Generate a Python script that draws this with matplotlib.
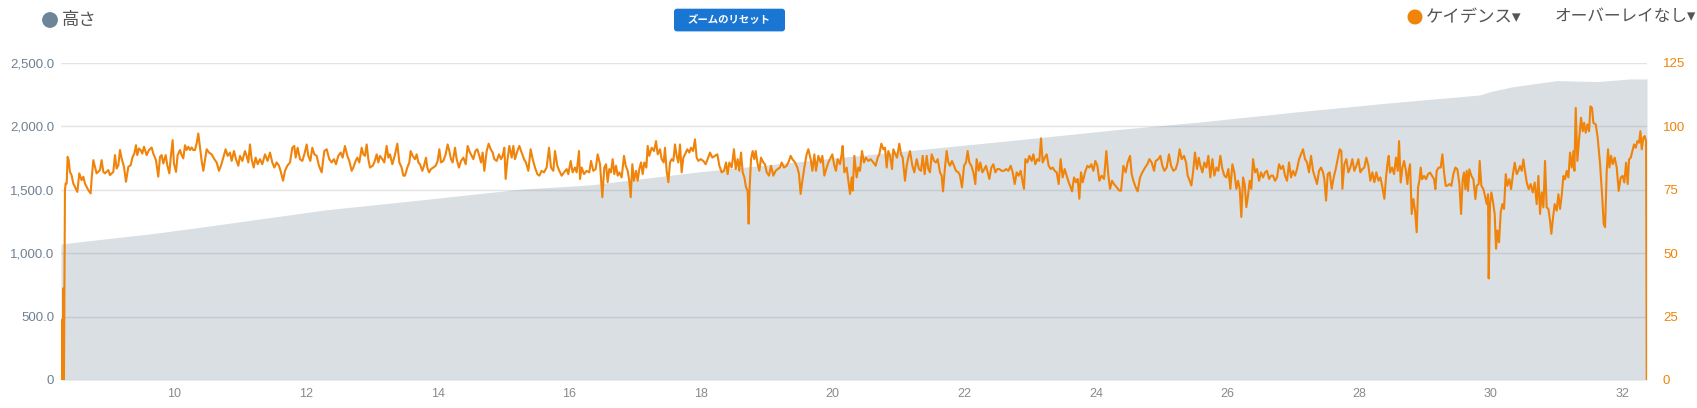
import matplotlib
matplotlib.use("Agg")
import matplotlib.pyplot as plt
from matplotlib.patches import FancyBboxPatch, Circle
from matplotlib.ticker import FuncFormatter

plt.rcParams['font.family'] = ['Liberation Sans', 'Noto Sans CJK JP', 'DejaVu Sans']

# elevation (m) against distance (km)
elev_km = [8.276, 9.704, 10.387, 12.287, 13.730, 15.249, 16.313, 17.984, 20.339, 22.542,
           24.365, 25.580, 27.100, 28.391, 29.834, 29.986, 30.336, 31.004, 31.612, 32.113,
           32.371]
elev_m = [1072, 1156, 1203, 1340, 1418, 1503, 1537, 1641, 1765, 1878,
          1975, 2033, 2115, 2180, 2246, 2272, 2311, 2359, 2351, 2372,
          2372]

km_a = [8.276, 8.281, 8.296, 8.301, 8.311, 8.321, 8.336, 8.346, 8.362, 8.377,
        8.392, 8.412, 8.437, 8.463, 8.488, 8.524, 8.554, 8.589, 8.615, 8.640,
        8.666, 8.691, 8.726, 8.742, 8.767, 8.792, 8.817, 8.868, 8.893, 8.919,
        8.944, 8.995, 9.020, 9.071, 9.096, 9.121, 9.147, 9.172, 9.197, 9.233,
        9.263, 9.299, 9.334, 9.364, 9.390, 9.415, 9.435, 9.461, 9.486, 9.511,
        9.537, 9.577, 9.613, 9.653, 9.678, 9.719, 9.754, 9.780, 9.805, 9.830,
        9.866, 9.891, 9.922, 9.942, 9.972, 9.992, 10.023, 10.048, 10.084, 10.109,
        10.134, 10.160, 10.185, 10.210, 10.236, 10.261, 10.286, 10.311, 10.337, 10.362]
spm_a = [0, 23.6, 23.6, 0, 36.1, 0, 74.8, 77.4, 77.4, 87.9,
         86.6, 82.0, 80.7, 77.4, 76.1, 74.1, 81.4, 78.7, 80.1, 77.4,
         76.1, 74.8, 73.5, 79.4, 86.6, 84.0, 81.4, 82.7, 86.6, 82.0,
         81.4, 82.7, 80.7, 82.0, 88.6, 83.3, 84.6, 90.6, 87.3, 84.0,
         78.1, 84.0, 84.6, 87.9, 89.2, 92.5, 88.6, 91.2, 90.6, 89.2,
         91.9, 88.6, 90.6, 91.6, 89.2, 86.6, 80.1, 87.9, 88.6, 85.3,
         88.6, 84.6, 81.4, 87.3, 94.5, 85.3, 82.0, 88.6, 90.6, 88.6,
         87.3, 92.5, 90.6, 91.9, 90.6, 91.6, 90.6, 90.6, 93.2, 97.1]

km_b = [10.413, 10.438, 10.489, 10.524, 10.565, 10.605, 10.641, 10.676, 10.706, 10.742,
        10.777, 10.808, 10.843, 10.869, 10.904, 10.934, 10.970, 10.995, 11.031, 11.071,
        11.096, 11.122, 11.147, 11.172, 11.203, 11.233, 11.264, 11.299, 11.334, 11.375,
        11.415, 11.451, 11.486, 11.517, 11.552, 11.588, 11.618, 11.649, 11.679, 11.714,
        11.755, 11.790, 11.820, 11.841, 11.871, 11.907, 11.942, 11.973, 12.008, 12.033,
        12.064, 12.094, 12.125, 12.160, 12.195, 12.236, 12.276]
spm_b = [86.3, 82.4, 90.9, 89.6, 88.9, 87.0, 85.7, 82.4, 84.4, 87.6,
         90.9, 88.3, 89.6, 86.3, 90.2, 87.0, 84.4, 88.3, 86.3, 90.2,
         88.3, 85.7, 92.8, 87.0, 83.7, 87.6, 85.0, 87.0, 85.0, 88.9,
         86.3, 89.6, 85.7, 83.7, 85.7, 84.4, 81.8, 78.5, 82.4, 84.4,
         85.7, 91.5, 92.2, 87.6, 91.5, 87.0, 86.3, 88.9, 92.8, 88.3,
         86.3, 91.5, 88.9, 88.3, 84.4, 81.8, 90.2]

km_c = [12.312, 12.352, 12.388, 12.423, 12.454, 12.489, 12.525, 12.555, 12.590, 12.626,
        12.656, 12.692, 12.717, 12.752, 12.778, 12.808, 12.844, 12.869, 12.894, 12.920,
        12.945, 12.970, 13.011, 13.036, 13.072, 13.097, 13.122, 13.158, 13.188, 13.223,
        13.249, 13.274, 13.310, 13.345, 13.386, 13.416, 13.451, 13.477, 13.502, 13.537,
        13.568, 13.588, 13.618, 13.654, 13.679, 13.705, 13.730, 13.765, 13.791, 13.821,
        13.841, 13.867, 13.897, 13.932, 13.968, 13.998, 14.024, 14.049, 14.084, 14.120,
        14.150, 14.176, 14.201, 14.226, 14.262, 14.287, 14.322, 14.353, 14.388, 14.424,
        14.454, 14.479, 14.515, 14.540, 14.571, 14.601, 14.631, 14.657, 14.682, 14.707,
        14.743, 14.773, 14.804, 14.834, 14.859, 14.895, 14.930, 14.961, 14.986, 15.011,
        15.031, 15.057, 15.087, 15.123, 15.148, 15.173, 15.209, 15.239, 15.274, 15.310,
        15.340, 15.376, 15.411, 15.442, 15.477, 15.513, 15.543, 15.578, 15.614, 15.654,
        15.690, 15.720, 15.756, 15.781, 15.816, 15.847, 15.882, 15.918, 15.958, 15.983,
        16.019, 16.049, 16.085, 16.110, 16.146, 16.161, 16.186, 16.222, 16.262, 16.302]
spm_c = [90.9, 87.0, 85.7, 87.0, 85.0, 88.3, 89.6, 87.6, 92.2, 88.3,
         86.3, 82.4, 83.7, 86.3, 87.6, 85.7, 91.5, 88.9, 88.3, 92.8,
         87.0, 83.7, 84.4, 85.7, 88.9, 85.7, 88.3, 87.0, 85.7, 92.2,
         87.6, 88.9, 85.0, 88.3, 93.1, 85.7, 83.7, 80.5, 80.5, 83.7,
         85.7, 90.2, 88.3, 87.0, 88.9, 85.7, 85.0, 82.4, 84.4, 87.6,
         83.7, 81.8, 83.1, 83.7, 84.4, 86.3, 90.9, 85.7, 86.3, 88.9,
         92.8, 90.2, 87.0, 85.7, 91.5, 87.0, 83.7, 86.3, 87.6, 85.0,
         92.2, 90.2, 88.3, 87.0, 90.2, 90.9, 88.3, 85.7, 89.6, 82.4,
         90.2, 93.1, 90.9, 89.6, 87.0, 86.3, 88.9, 87.0, 88.3, 91.5,
         79.2, 86.3, 92.2, 87.6, 92.2, 87.0, 90.2, 92.2, 89.6, 87.0,
         85.7, 82.4, 90.9, 87.0, 83.7, 81.1, 80.5, 82.4, 81.8, 83.7,
         91.5, 83.7, 82.4, 90.2, 84.4, 82.4, 80.5, 81.8, 83.1, 81.1,
         86.3, 81.8, 83.7, 81.8, 90.2, 79.2, 83.7, 81.1, 82.4, 81.8]

km_d = [16.328, 16.363, 16.399, 16.429, 16.465, 16.500, 16.530, 16.556, 16.581, 16.606,
        16.632, 16.657, 16.682, 16.708, 16.733, 16.758, 16.794, 16.829, 16.855, 16.885,
        16.910, 16.931, 16.956, 16.981, 17.012, 17.037, 17.062, 17.088, 17.113, 17.138,
        17.169, 17.189, 17.214, 17.250, 17.285, 17.316, 17.341, 17.376, 17.401, 17.432,
        17.452, 17.477, 17.503, 17.528, 17.553, 17.579, 17.604, 17.629, 17.655, 17.680,
        17.705, 17.731, 17.756, 17.791, 17.822, 17.847, 17.878, 17.908, 17.933, 17.959,
        17.994, 18.035, 18.070, 18.100, 18.136, 18.171, 18.212, 18.247, 18.278, 18.313,
        18.349, 18.379, 18.404, 18.430, 18.465, 18.500, 18.526, 18.556, 18.581, 18.607,
        18.632, 18.658, 18.683, 18.708, 18.723, 18.738, 18.759, 18.784, 18.809, 18.830,
        18.860, 18.885, 18.911, 18.946, 18.971, 18.997, 19.032, 19.063, 19.098, 19.133,
        19.164, 19.199, 19.225, 19.260, 19.301, 19.336, 19.361, 19.387, 19.427, 19.463,
        19.488, 19.513, 19.539, 19.569, 19.604, 19.630, 19.665, 19.691, 19.721, 19.746,
        19.782, 19.817, 19.843, 19.873, 19.908, 19.934, 19.969, 19.994, 20.025, 20.050,
        20.075, 20.111, 20.136, 20.151, 20.177, 20.212, 20.237, 20.263, 20.288, 20.303,
        20.329]
spm_d = [86.3, 82.4, 83.1, 88.9, 85.0, 72.0, 83.7, 85.0, 77.9, 83.1,
         81.8, 87.0, 81.1, 84.4, 80.5, 81.8, 79.8, 88.3, 84.4, 82.4,
         78.5, 72.0, 85.0, 78.5, 82.4, 78.5, 83.1, 85.7, 81.1, 85.7,
         83.7, 92.2, 88.3, 91.5, 90.2, 94.1, 88.9, 90.9, 87.0, 85.7,
         91.5, 82.4, 77.9, 85.7, 87.0, 86.3, 92.8, 88.3, 85.7, 92.8,
         81.8, 87.6, 88.9, 90.9, 89.6, 91.5, 90.2, 94.8, 87.6, 86.3,
         87.0, 86.3, 85.0, 87.0, 89.6, 87.6, 88.3, 88.9, 84.4, 81.8,
         82.4, 85.7, 81.1, 85.7, 83.7, 90.9, 83.1, 87.0, 82.4, 89.6,
         81.8, 79.8, 75.9, 74.6, 61.6, 75.9, 87.0, 90.2, 87.0, 90.2,
         85.0, 82.4, 87.6, 85.7, 85.0, 81.8, 80.5, 84.4, 80.5, 82.4,
         83.1, 83.7, 85.7, 83.7, 84.4, 86.3, 88.3, 87.0, 85.7, 83.7,
         81.1, 73.3, 78.5, 83.7, 88.9, 90.9, 87.0, 82.4, 88.9, 82.4,
         88.3, 85.7, 88.3, 80.5, 83.7, 85.7, 87.6, 88.9, 84.4, 82.4,
         87.0, 85.0, 88.9, 92.2, 81.8, 83.7, 78.5, 73.3, 79.8, 74.6,
         88.3]

km_e = [20.364, 20.389, 20.415, 20.445, 20.475, 20.506, 20.541, 20.577, 20.617, 20.653,
        20.683, 20.708, 20.739, 20.769, 20.795, 20.820, 20.845, 20.871, 20.901, 20.921,
        20.952, 20.977, 21.012, 21.038, 21.063, 21.098, 21.124, 21.149, 21.174, 21.210,
        21.240, 21.276, 21.311, 21.342, 21.367, 21.397, 21.428, 21.453, 21.478, 21.504,
        21.539, 21.569, 21.595, 21.630, 21.655, 21.676, 21.701, 21.731, 21.757, 21.782,
        21.812, 21.843, 21.873, 21.909, 21.934, 21.964, 21.995, 22.025, 22.050, 22.076,
        22.106, 22.137, 22.167, 22.187, 22.218, 22.243, 22.273, 22.304, 22.329, 22.354,
        22.380, 22.410, 22.440, 22.471, 22.501, 22.532, 22.567, 22.602, 22.633, 22.668,
        22.704, 22.734, 22.765, 22.795, 22.825, 22.856, 22.886, 22.906, 22.927, 22.957,
        22.987, 23.023, 23.048, 23.078, 23.109, 23.139, 23.165, 23.190, 23.220, 23.251,
        23.281, 23.312, 23.342, 23.372, 23.403, 23.433, 23.463, 23.494, 23.524, 23.555,
        23.585, 23.615, 23.636, 23.666, 23.696, 23.722, 23.747, 23.772, 23.798, 23.833,
        23.869, 23.899, 23.929, 23.960, 23.990, 24.021, 24.051, 24.086, 24.122, 24.157,
        24.188, 24.213, 24.243, 24.274, 24.314, 24.355]
spm_e = [79.8, 83.7, 82.4, 90.2, 85.7, 87.6, 86.3, 87.0, 85.7, 84.4,
         87.6, 88.9, 93.1, 90.9, 91.5, 83.7, 90.2, 88.3, 83.1, 90.9,
         88.9, 87.6, 93.1, 88.9, 87.6, 78.5, 84.4, 87.6, 90.2, 84.4,
         81.8, 87.0, 83.1, 82.4, 88.3, 81.1, 88.3, 83.1, 81.8, 88.9,
         86.3, 85.7, 87.0, 81.8, 80.5, 74.3, 82.4, 90.2, 85.7, 84.4,
         86.3, 84.4, 82.4, 81.8, 80.5, 75.9, 84.4, 85.7, 90.2, 85.7,
         84.4, 81.8, 77.2, 87.0, 82.4, 85.7, 81.8, 83.1, 84.4, 81.8,
         79.2, 83.7, 85.0, 81.8, 83.1, 83.1, 82.4, 82.4, 83.1, 82.4,
         84.4, 81.8, 77.2, 81.8, 80.5, 82.4, 77.9, 75.3, 87.0, 85.7,
         88.3, 86.3, 88.9, 85.0, 87.0, 86.3, 95.2, 85.7, 87.6, 88.9,
         84.4, 83.1, 83.7, 82.4, 81.8, 77.2, 87.0, 79.8, 83.1, 80.5,
         77.9, 75.9, 74.3, 79.8, 77.9, 79.2, 71.4, 81.8, 77.9, 81.8,
         84.4, 83.7, 85.0, 82.4, 86.3, 84.4, 78.5, 80.5, 79.2, 90.2,
         80.5, 75.3, 78.5, 77.2, 75.9, 74.6]

km_f = [24.380, 24.416, 24.451, 24.481, 24.517, 24.542, 24.568, 24.603, 24.633, 24.669,
        24.704, 24.745, 24.780, 24.811, 24.846, 24.882, 24.907, 24.947, 24.978, 25.008,
        25.039, 25.074, 25.109, 25.140, 25.175, 25.211, 25.241, 25.271, 25.302, 25.337,
        25.368, 25.393, 25.423, 25.449, 25.474, 25.504, 25.535, 25.560, 25.586, 25.616,
        25.646, 25.677, 25.707, 25.737, 25.768, 25.798, 25.829, 25.859, 25.889, 25.920,
        25.950, 25.981, 26.011, 26.041, 26.072, 26.102, 26.132, 26.158, 26.183, 26.208,
        26.234, 26.259, 26.284, 26.310, 26.335, 26.360, 26.386, 26.416, 26.446, 26.477,
        26.507, 26.538, 26.568, 26.598, 26.629, 26.659, 26.689, 26.720, 26.750, 26.781,
        26.811, 26.841, 26.872, 26.902, 26.933, 26.963, 26.993, 27.024, 27.054, 27.085,
        27.115, 27.145, 27.176, 27.206, 27.236, 27.267, 27.297, 27.328, 27.358, 27.388,
        27.419, 27.449, 27.469, 27.495, 27.520, 27.550, 27.581, 27.611, 27.642, 27.672,
        27.702, 27.728, 27.743, 27.773, 27.804, 27.834, 27.864, 27.895, 27.925, 27.956,
        27.986, 28.016, 28.047, 28.077, 28.107, 28.138, 28.168, 28.199, 28.229, 28.259,
        28.290, 28.320, 28.351, 28.381]
spm_f = [74.6, 84.4, 81.8, 85.7, 88.3, 81.1, 78.5, 75.9, 74.3, 79.8,
         81.8, 83.7, 85.0, 87.0, 85.7, 82.4, 86.3, 87.0, 88.3, 84.4,
         82.4, 83.7, 88.9, 84.4, 82.4, 83.1, 85.7, 90.9, 87.0, 88.3,
         85.7, 80.5, 78.5, 76.6, 81.8, 89.6, 83.1, 87.6, 84.4, 81.8,
         85.7, 83.7, 88.3, 79.8, 87.0, 80.5, 83.7, 82.4, 88.3, 83.1,
         80.5, 79.8, 83.1, 75.3, 85.0, 81.8, 75.3, 78.5, 75.3, 64.2,
         79.8, 77.2, 68.1, 72.7, 78.5, 75.3, 87.0, 81.8, 83.1, 78.5,
         81.8, 79.8, 81.8, 82.4, 79.2, 80.5, 80.5, 78.5, 79.8, 85.0,
         83.1, 84.4, 80.5, 78.5, 85.7, 79.8, 82.4, 80.5, 83.1, 87.0,
         88.9, 90.9, 87.0, 85.7, 81.8, 88.3, 82.4, 79.8, 77.2, 82.4,
         83.7, 81.8, 79.2, 70.7, 81.1, 81.8, 75.3, 79.8, 83.1, 87.0,
         90.9, 90.2, 75.3, 85.0, 87.0, 81.8, 83.7, 87.0, 82.4, 84.4,
         87.0, 81.8, 83.1, 83.7, 87.6, 84.4, 78.5, 81.8, 77.9, 81.8,
         78.5, 79.8, 75.9, 71.4]

km_g = [28.406, 28.427, 28.447, 28.467, 28.498, 28.528, 28.558, 28.584, 28.604, 28.629,
        28.655, 28.680, 28.705, 28.731, 28.751, 28.771, 28.796, 28.822, 28.847, 28.872,
        28.893, 28.913, 28.933, 28.953, 28.984, 29.014, 29.044, 29.075, 29.105, 29.136,
        29.156, 29.176, 29.207, 29.237, 29.262, 29.288, 29.313, 29.338, 29.369, 29.399,
        29.429, 29.460, 29.490, 29.521, 29.546, 29.571, 29.591, 29.612, 29.632, 29.652,
        29.672, 29.703, 29.733, 29.764, 29.784, 29.814, 29.829, 29.855, 29.885, 29.915,
        29.936, 29.956, 29.966, 29.986, 30.007, 30.032, 30.057, 30.078, 30.098, 30.123,
        30.149, 30.174, 30.199, 30.225, 30.250, 30.280, 30.306, 30.331, 30.361, 30.392,
        30.417, 30.442, 30.468, 30.493, 30.513, 30.544, 30.574, 30.604, 30.635, 30.665,
        30.695, 30.721, 30.746, 30.771, 30.797, 30.822, 30.847, 30.873, 30.898, 30.918,
        30.944, 30.969, 30.999, 31.025, 31.050, 31.075, 31.101, 31.126, 31.151, 31.177,
        31.202, 31.227, 31.253, 31.268, 31.288, 31.313, 31.339, 31.369, 31.394, 31.415,
        31.440, 31.465, 31.491, 31.511, 31.536, 31.556, 31.592, 31.622, 31.658, 31.688,
        31.713, 31.734, 31.759, 31.779, 31.800, 31.825, 31.850, 31.880, 31.911, 31.941,
        31.972, 32.002, 32.027, 32.053, 32.078, 32.098, 32.124, 32.149, 32.174, 32.200,
        32.225, 32.250, 32.271, 32.291, 32.316, 32.336, 32.357, 32.367]
spm_g = [79.8, 85.0, 88.3, 81.7, 83.7, 81.1, 87.6, 82.4, 94.1, 77.8,
         83.7, 86.3, 83.0, 77.2, 82.4, 85.0, 65.4, 71.3, 66.7, 58.2,
         75.8, 78.5, 83.7, 79.1, 80.4, 79.1, 81.1, 81.7, 80.4, 79.1,
         75.2, 82.4, 83.7, 83.7, 88.9, 81.7, 76.5, 76.5, 77.2, 76.5,
         81.1, 83.7, 83.0, 77.2, 65.4, 79.1, 81.7, 75.2, 82.4, 74.5,
         83.0, 80.4, 79.1, 71.3, 76.5, 77.2, 86.3, 76.5, 75.2, 71.9,
         69.3, 73.2, 40.0, 69.3, 73.9, 70.0, 65.4, 51.7, 58.9, 54.3,
         66.1, 69.3, 67.4, 81.1, 76.5, 79.1, 75.2, 80.4, 85.6, 81.1,
         82.4, 84.3, 82.4, 86.9, 83.0, 77.8, 75.2, 77.2, 73.9, 77.8,
         69.3, 80.4, 65.4, 73.9, 68.0, 86.3, 68.0, 67.4, 62.8, 57.6,
         64.1, 69.3, 66.7, 73.2, 67.4, 72.6, 80.4, 79.1, 82.4, 79.8,
         89.6, 83.7, 90.2, 82.4, 107.2, 86.3, 94.8, 103.3, 98.0, 101.3,
         97.4, 100.7, 98.0, 107.8, 107.2, 101.3, 100.7, 95.4, 85.0, 73.2,
         61.5, 60.2, 82.4, 90.9, 83.7, 88.3, 85.0, 87.6, 83.7, 74.5,
         79.8, 80.4, 77.8, 85.6, 77.2, 86.9, 87.6, 90.2, 92.8, 91.5,
         94.1, 93.5, 98.0, 90.9, 95.4, 96.1, 94.1, 0]

cad_km = km_a + km_b + km_c + km_d + km_e + km_f + km_g
cad_spm = spm_a + spm_b + spm_c + spm_d + spm_e + spm_f + spm_g

elev_ticks = [0, 500, 1000, 1500, 2000, 2500]
cad_ticks = [0, 25, 50, 75, 100, 125]
km_ticks = [10, 12, 14, 16, 18, 20, 22, 24, 26, 28, 30, 32]

W, H = 1697, 408
ORANGE = '#f0830a'

fig = plt.figure(figsize=(W / 100, H / 100), dpi=100)
ax = fig.add_axes([61 / W, 1 - 380 / H, (1647 - 61) / W, (380 - 62.7) / H])

ax.fill_between(elev_km, elev_m, 0, color='#dadfe3', linewidth=0, zorder=1)
ax.set_xlim(8.276, 32.371)
ax.set_ylim(0, 2500)
ax.set_yticks(elev_ticks)
ax.yaxis.set_major_formatter(FuncFormatter(lambda v, p: '0' if v == 0 else f'{v:,.1f}'))
ax.set_xticks(km_ticks)
ax.grid(axis='y', color='#8a9099', alpha=0.25, linewidth=1)
ax.grid(axis='x', visible=False)
ax.set_axisbelow(False)
for s in ax.spines.values():
    s.set_visible(False)
ax.tick_params(axis='both', length=0)
ax.tick_params(axis='y', labelcolor='#6e8192', labelsize=9.5, pad=5)
ax.tick_params(axis='x', labelcolor='#8a8a8a', labelsize=9, pad=6)

ax2 = ax.twinx()
ax2.plot(cad_km, cad_spm, color=ORANGE, linewidth=1.5, solid_joinstyle='round')
ax2.set_xlim(8.276, 32.371)
ax2.set_ylim(0, 125)
ax2.set_yticks(cad_ticks)
for s in ax2.spines.values():
    s.set_visible(False)
ax2.tick_params(axis='y', length=0, labelcolor=ORANGE, labelsize=9.5, pad=11.5)

# header: legend items and reset button
fig.add_artist(Circle((0.50, 3.88), 0.072, transform=fig.dpi_scale_trans,
                      color='#6c8598'))
fig.text(62 / W, 1 - 20 / H, '高さ', fontsize=12.5, color='#555555', va='center')

fig.add_artist(FancyBboxPatch((6.74, 3.766), 1.11, 0.227,
                              boxstyle='round,pad=0,rounding_size=0.03',
                              transform=fig.dpi_scale_trans,
                              facecolor='#1976d2', edgecolor='none'))
fig.text(729 / W, 1 - 20 / H, 'ズームのリセット', fontsize=7.5, color='white',
         fontweight='bold', ha='center', va='center')

fig.add_artist(Circle((14.15, 3.91), 0.068, transform=fig.dpi_scale_trans,
                      color=ORANGE))
fig.text(1426 / W, 1 - 17 / H, 'ケイデンス▾', fontsize=12.5, color='#555555', va='center')
fig.text(1696 / W, 1 - 17 / H, 'オーバーレイなし▾', fontsize=12, color='#555555',
         ha='right', va='center')

fig.savefig('out.png', dpi=100)
